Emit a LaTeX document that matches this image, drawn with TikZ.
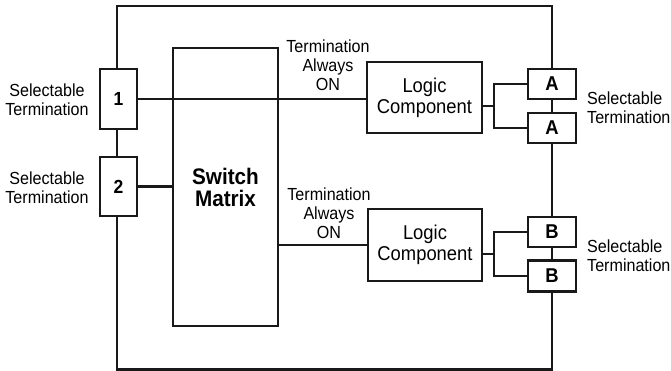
\documentclass[tikz,border=0pt]{standalone}
\usepackage{fontspec}
\setmainfont{Liberation Sans}[FakeStretch=0.92]
\begin{document}
\begin{tikzpicture}[x=1pt,y=-1pt,
  ln/.style={line width=2.6pt,black!90},
  blk/.style={draw=black!90,line width=2.6pt,fill=white,inner sep=0pt,anchor=center},
  lbl/.style={align=center,inner sep=0pt,font=\fontsize{17.5}{19}\selectfont},
  lbr/.style={align=left,inner sep=0pt,anchor=west,font=\fontsize{17.5}{19}\selectfont},
  num/.style={blk,minimum width=37pt,font=\fontsize{19}{19}\selectfont\bfseries},
  sel/.style={blk,minimum width=48pt,minimum height=30pt,font=\fontsize{20}{20}\selectfont\bfseries},
  logic/.style={blk,align=center,font=\fontsize{20}{21}\selectfont}]
\useasboundingbox (0,0) rectangle (671,371);
% outer frame
\coordinate (o1) at (117,6);
\coordinate (o2) at (552,369.5);
\draw[ln] (o1) rectangle (o2);
% switch matrix
\node[blk,minimum width=105pt,minimum height=278pt,align=center,
  font=\fontsize{22.5}{22}\selectfont\bfseries] (sw) at (225.5,187) {Switch\\Matrix};
% left selectable boxes
\node[num,minimum height=60pt] (b1) at (118.5,99) {1};
\node[num,minimum height=59pt] (b2) at (118.5,186.5) {2};
% logic components
\node[logic,minimum width=115pt,minimum height=71pt] (lc1) at (424.5,97.5) {Logic\\Component};
\node[logic,minimum width=114pt,minimum height=72pt] (lc2) at (425,245) {Logic\\Component};
% right selectable boxes
\node[sel] (a1) at (552,84) {A};
\node[sel] (a2) at (552,128) {A};
\node[sel] (bb1) at (552,232) {B};
\node[sel,minimum height=31pt] (bb2) at (552,276) {B};
% connectors
\draw[ln] (b1.east) -- (b1.east -| lc1.west);
\draw[ln] (b2.east) -- (b2.east -| sw.west);
\draw[ln] (sw.east |- lc2.west) -- (lc2.west);
\coordinate (j1) at (494,106);
\coordinate (j2) at (494,254);
\draw[ln] (j1 -| lc1.east) -- (j1);
\draw[ln] (a1.west) -| (j1) |- (a2.west);
\draw[ln] (j2 -| lc2.east) -- (j2);
\draw[ln] (bb1.west) -| (j2) |- (bb2.west);
% labels
\node[lbl] (t1) at (47,100) {Selectable\\Termination};
\node[lbl] (t2) at (47,188) {Selectable\\Termination};
\node[lbr] (t3) at (587,108) {Selectable\\Termination};
\node[lbr] (t4) at (587,256) {Selectable\\Termination};
\node[lbl] (n1) at (328,65) {Termination\\Always\\ON};
\node[lbl] (n2) at (329,213) {Termination\\Always\\ON};
\end{tikzpicture}
\end{document}
